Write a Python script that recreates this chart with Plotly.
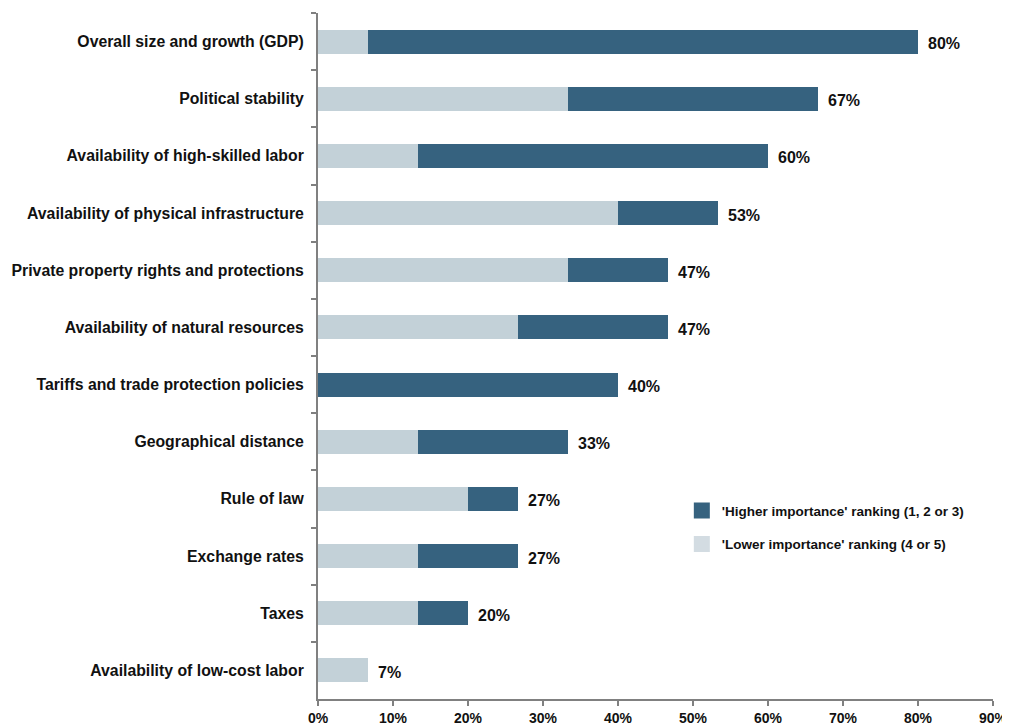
import plotly.graph_objects as go

categories = [
    "Overall size and growth (GDP)",
    "Political stability",
    "Availability of high-skilled labor",
    "Availability of physical infrastructure",
    "Private property rights and protections",
    "Availability of natural resources",
    "Tariffs and trade protection policies",
    "Geographical distance",
    "Rule of law",
    "Exchange rates",
    "Taxes",
    "Availability of low-cost labor",
]
lower_importance = [6.7, 33.3, 13.3, 40.0, 33.3, 26.7, 0.0, 13.3, 20.0, 13.3, 13.3, 6.7]
higher_importance = [73.3, 33.3, 46.7, 13.3, 13.3, 20.0, 40.0, 20.0, 6.7, 13.3, 6.7, 0.0]
total_labels = ["80%", "67%", "60%", "53%", "47%", "47%", "40%", "33%", "27%", "27%", "20%", "7%"]
lower_name = "'Lower importance' ranking (4 or 5)"
higher_name = "'Higher importance' ranking (1, 2 or 3)"

DARK = "#36627f"
LIGHT = "#c3d1d8"
LIGHT_LEGEND = "#d3dce2"

fig = go.Figure()
fig.add_trace(go.Bar(
    y=categories, x=lower_importance, orientation="h", name=lower_name,
    marker=dict(color=LIGHT, line=dict(width=0)), width=0.42, showlegend=False,
))
fig.add_trace(go.Bar(
    y=categories, x=higher_importance, orientation="h", name=higher_name,
    marker=dict(color=DARK, line=dict(width=0)), width=0.42, showlegend=False,
))
# legend entries (square swatches)
fig.add_trace(go.Scatter(
    x=[None], y=[None], mode="markers", name=higher_name, legendgroup="h",
    marker=dict(symbol="square", size=16, color=DARK), showlegend=True,
))
fig.add_trace(go.Scatter(
    x=[None], y=[None], mode="markers", name=lower_name, legendgroup="l",
    marker=dict(symbol="square", size=16, color=LIGHT_LEGEND), showlegend=True,
))

for cat, lo, hi, lab in zip(categories, lower_importance, higher_importance, total_labels):
    fig.add_annotation(
        x=lo + hi, y=cat, text=lab, showarrow=False,
        xanchor="left", xshift=8, yshift=-2,
        font=dict(family="Liberation Sans Narrow, Liberation Sans, Arial", size=16, color="#111111", weight="bold"),
    )

fig.update_layout(
    barmode="stack",
    width=1002, height=719,
    margin=dict(l=310, r=17, t=5, b=28),
    plot_bgcolor="white", paper_bgcolor="white",
    font=dict(family="Liberation Sans, Arial", color="#111111"),
    showlegend=True,
    legend=dict(
        x=0.539, y=0.297, xanchor="left", yanchor="top",
        traceorder="grouped",
        font=dict(family="Liberation Sans, Arial", size=13.5, color="#111111", weight="bold"),
        bgcolor="rgba(0,0,0,0)", tracegroupgap=13, itemwidth=30,
        itemsizing="trace",
    ),
    xaxis=dict(
        range=[0, 90], dtick=10, ticksuffix="%", automargin=False,
        showgrid=False, zeroline=False,
        showline=True, linecolor="#808080", linewidth=2,
        ticks="outside", ticklen=5, tickcolor="#808080", tickwidth=2,
        tickfont=dict(family="Liberation Sans Narrow, Liberation Sans, Arial", size=14, color="#111111", weight="bold"),
        fixedrange=True,
    ),
    yaxis=dict(
        categoryorder="array", categoryarray=categories, autorange="reversed",
        automargin=False,
        showgrid=False, zeroline=False,
        showline=True, linecolor="#808080", linewidth=2,
        ticks="outside", tickson="boundaries", ticklen=5, tickcolor="#808080", tickwidth=2,
        tickfont=dict(family="Liberation Sans, Arial", size=15.8, color="#111111", weight="bold"),
        ticklabelstandoff=9,
    ),
)

fig.write_html("out.html")
